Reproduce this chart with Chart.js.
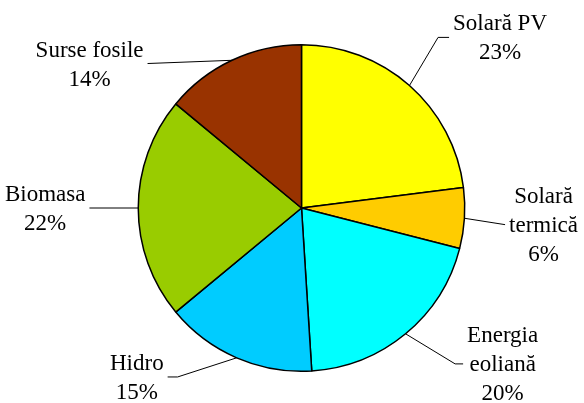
<!DOCTYPE html>
<html><head><meta charset="utf-8">
<script src="https://cdn.jsdelivr.net/npm/chart.js@4"></script>
<style>html,body{margin:0;padding:0;background:#fff}#wrap{width:584px;height:403px}</style>
</head><body><div id="wrap"><canvas id="c" width="584" height="403"></canvas></div>
<script>
const categories = ['Solară PV', 'Solară termică', 'Energia eoliană', 'Hidro', 'Biomasa', 'Surse fosile'];
const shares = [23, 6, 20, 15, 22, 14];
const sliceColors = ['#FFFF00', '#FFCC00', '#00FFFF', '#00CCFF', '#99CC00', '#993300'];
const labelLines = [['Solară PV'], ['Solară', 'termică'], ['Energia', 'eoliană'], ['Hidro'], ['Biomasa'], ['Surse fosile']];
// callout placement (offsets in units of the pie radius), style only
const calloutLayout = [
  {dx: 0.904, dy: -1.045, stub: 11, side: 1},
  {dx: 1.247, dy: 0.102, stub: 0, side: 1},
  {dx: 0.99, dy: 0.955, stub: 8, side: 1},
  {dx: -0.82, dy: 1.035, stub: 10, side: -1},
  {dx: -1.299, dy: 0.0, stub: 0, side: -1},
  {dx: -0.943, dy: -0.885, stub: 0, side: -1}
];
const FONT = '23px "Liberation Serif", "Times New Roman", serif';
const LINE_H = 29;

const callouts = {
  id: 'callouts',
  afterDraw(chart) {
    const ctx = chart.ctx;
    const meta = chart.getDatasetMeta(0);
    ctx.save();
    ctx.font = FONT;
    meta.data.forEach((arc, i) => {
      const p = arc.getProps(['x', 'y', 'startAngle', 'endAngle', 'outerRadius'], true);
      const R = p.outerRadius;
      const mid = (p.startAngle + p.endAngle) / 2;
      const ex = p.x + Math.cos(mid) * R, ey = p.y + Math.sin(mid) * R;
      const L = calloutLayout[i];
      const ax = p.x + L.dx * R, ay = p.y + L.dy * R;
      const bx = ax - L.side * L.stub;
      ctx.strokeStyle = '#000';
      ctx.lineWidth = 1;
      ctx.beginPath();
      ctx.moveTo(ex, ey);
      ctx.lineTo(bx, ay);
      ctx.lineTo(ax, ay);
      ctx.stroke();
      const lines = labelLines[i].concat([shares[i] + '%']);
      const maxW = Math.max(...lines.map(t => ctx.measureText(t).width));
      const cx = ax + L.side * (maxW / 2 + 4);
      const n = lines.length;
      const firstBase = ay - (n - 1) * LINE_H / 2 + 7.5;
      ctx.fillStyle = '#000';
      ctx.textAlign = 'center';
      ctx.textBaseline = 'alphabetic';
      lines.forEach((t, k) => ctx.fillText(t, cx, firstBase + k * LINE_H));
    });
    ctx.restore();
  }
};

new Chart(document.getElementById('c'), {
  type: 'pie',
  data: {
    labels: categories,
    datasets: [{
      data: shares,
      backgroundColor: sliceColors,
      borderColor: '#000',
      borderWidth: 1.5
    }]
  },
  options: {
    responsive: false,
    animation: false,
    devicePixelRatio: 1,
    layout: {padding: {top: 44, bottom: 31, left: 19, right: 0}},
    plugins: {legend: {display: false}, tooltip: {enabled: false}}
  },
  plugins: [callouts]
});
</script>
</body></html>
